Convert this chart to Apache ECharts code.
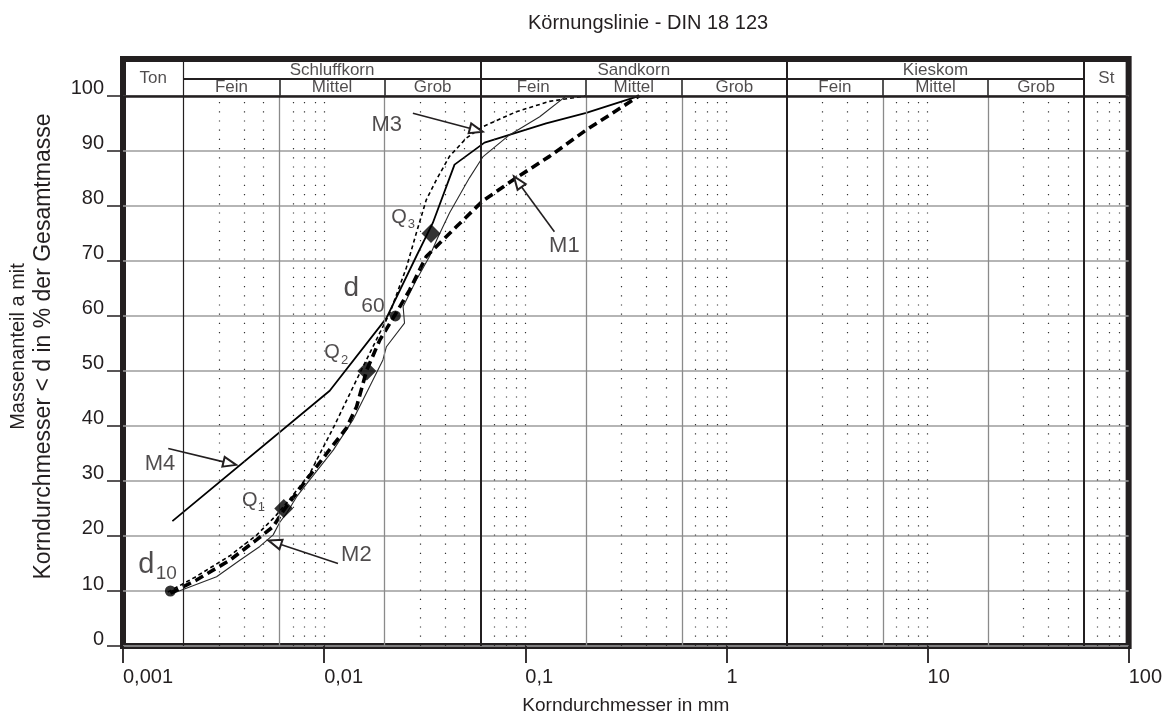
<!DOCTYPE html>
<html>
<head>
<meta charset="utf-8">
<script src="https://cdn.jsdelivr.net/npm/echarts@6/dist/echarts.min.js"></script>
<style>
html,body{margin:0;padding:0;background:#ffffff;}
#chart{width:1165px;height:726px;}
</style>
</head>
<body>
<div id="chart"></div>
<script>
// ---------------- data ----------------
const xTickLabels = ['0,001', '0,01', '0,1', '1', '10', '100'];
const yTickValues = [0, 10, 20, 30, 40, 50, 60, 70, 80, 90, 100];

// DIN grain-size classes (mm)
const mainBounds = [0.002, 0.06, 2, 60];
const subBounds = [0.006, 0.02, 0.2, 0.6, 6, 20];
const minorLines = [0.003, 0.004, 0.005, 0.007, 0.008, 0.009, 0.01,
  0.03, 0.04, 0.05, 0.07, 0.08, 0.09, 0.1,
  0.3, 0.4, 0.5, 0.7, 0.8, 0.9, 1,
  3, 4, 5, 7, 8, 9, 10,
  30, 40, 50, 70, 80, 90];
const groupNames = ['Schluffkorn', 'Sandkorn', 'Kieskom'];
const groupRanges = [[0.002, 0.06], [0.06, 2], [2, 60]];
const subNames = ['Fein', 'Mittel', 'Grob', 'Fein', 'Mittel', 'Grob', 'Fein', 'Mittel', 'Grob'];
const subRanges = [[0.002, 0.006], [0.006, 0.02], [0.02, 0.06], [0.06, 0.2], [0.2, 0.6], [0.6, 2], [2, 6], [6, 20], [20, 60]];
const edgeNames = ['Ton', 'St'];
const edgeRanges = [[0.001, 0.002], [60, 100]];

// grading curves: grain diameter d (mm) and mass passing (%)
const m1D = [0.00172, 0.00232, 0.0034, 0.00461, 0.00558, 0.0063, 0.00817, 0.0103, 0.0129, 0.0145, 0.0163, 0.0189, 0.0226, 0.0266, 0.0322, 0.0375, 0.0454, 0.0615, 0.0902, 0.132, 0.201, 0.369];
const m1P = [9.6, 12.0, 15.6, 19.3, 21.7, 24.7, 30.2, 35.0, 39.6, 43.5, 50.2, 55.6, 60.3, 64.7, 70.8, 73.2, 76.2, 80.9, 85.1, 89.0, 93.8, 100];

const m2D = [0.00175, 0.00292, 0.00381, 0.00479, 0.00558, 0.00602, 0.0065, 0.00729, 0.00848, 0.0111, 0.0139, 0.0168, 0.0196, 0.0204, 0.0251, 0.0247, 0.0287, 0.0334, 0.0367, 0.0420, 0.0528, 0.0615, 0.0835, 0.118, 0.160];
const m2P = [9.5, 12.6, 15.6, 18.1, 20.2, 22.5, 24.1, 27.1, 30.2, 35.6, 41.1, 47.1, 52.0, 54.4, 58.7, 61.7, 66.5, 70.8, 74.2, 78.7, 85.1, 88.9, 92.9, 96.2, 100];

const m3D = [0.00167, 0.00228, 0.0034, 0.00463, 0.00569, 0.00675, 0.00848, 0.00973, 0.0113, 0.0145, 0.0189, 0.0212, 0.0256, 0.0287, 0.0322, 0.0361, 0.0420, 0.0509, 0.0615, 0.0901, 0.132, 0.201];
const m3P = [9.8, 12.5, 16.4, 20.2, 23.5, 26.7, 31.3, 35.6, 40.2, 48.4, 56.9, 60.5, 68.7, 75.0, 81.1, 84.7, 89.0, 92.3, 94.4, 97.1, 99.0, 100];

const m4D = [0.00176, 0.01066, 0.0204, 0.0287, 0.0347, 0.0445, 0.0627, 0.127, 0.201, 0.369];
const m4P = [22.7, 46.4, 59.6, 70.8, 76.9, 87.5, 91.5, 95.0, 96.9, 100];

// characteristic points
const quartD = [0.0063, 0.0163, 0.0340];
const quartP = [25, 50, 75];
const quartNames = ['1', '2', '3'];
const dD = [0.00172, 0.0226];
const dP = [10, 60];
const dNames = ['10', '60'];

// curve labels and arrows (label anchor, arrow tail, arrow tip)
const curveNames = ['M1', 'M2', 'M3', 'M4'];
const curveLabelAt = [[0.1565, 72.7], [0.01446, 16.5], [0.0205, 94.7], [0.001527, 33.1]];
const arrowTail = [[0.1396, 75.3], [0.01172, 15.0], [0.02763, 96.85], [0.001679, 35.9]];
const arrowTip = [[0.0918, 84.4], [0.005685, 18.8], [0.05705, 93.8], [0.003398, 33.2]];

// ---------------- layout / style ----------------
const FONT = "'Liberation Sans', Arial, Helvetica, sans-serif";
const INK = '#231f20';
const Y_TOP = 106.7;
const ROW_SPLIT = 103.2;
const ROW_GROUP = 104.6, ROW_SUB = 101.6, ROW_EDGE = 103.1;

// label offsets (pixels) relative to their marker
const quartMainOff = [[-34, -8.4], [-34.8, -18.3], [-32.1, -16.4]];
const quartSubOff = [[-22.5, -1], [-22.3, -10.9], [-19.6, -8.7]];
const dMainOff = [[-24, -26.4], [-44, -27.2]];
const dSubOff = [[-4, -17.6], [-22.4, -10]];
const dMainSize = [29, 28];
const dSubSize = [19, 21];

const zip = (xs, ys) => xs.map((x, i) => [x, ys[i]]);
const gmean = (r) => Math.sqrt(r[0] * r[1]);

function seg(x1, y1, x2, y2, style) {
  return [{ coord: [x1, y1], lineStyle: style }, { coord: [x2, y2] }];
}

const dark = { color: INK, width: 2, type: 'solid' };
const thinDark = { color: INK, width: 1.2, type: 'solid' };
const gray = { color: '#8a8a8a', width: 1.3, type: 'solid' };
const grayHead = { color: '#555555', width: 2, type: 'solid' };
const dotted = { color: '#333333', width: 1.2, type: [1.2, 8] };

const frameLines = [];
minorLines.forEach(v => frameLines.push(seg(v, 0, v, 100, dotted)));
subBounds.forEach(v => frameLines.push(seg(v, 0, v, 100, gray)));
subBounds.forEach(v => frameLines.push(seg(v, 100, v, ROW_SPLIT, grayHead)));
mainBounds.forEach((v, i) => frameLines.push(seg(v, 0, v, Y_TOP, i === 0 ? thinDark : dark)));
frameLines.push(seg(0.001, 100, 100, 100, { color: INK, width: 2.6, type: 'solid' }));
frameLines.push(seg(mainBounds[0], ROW_SPLIT, mainBounds[mainBounds.length - 1], ROW_SPLIT, dark));

// header texts
const headerItems = [];
groupNames.forEach((n, i) => headerItems.push({ value: [gmean(groupRanges[i]), ROW_GROUP], label: { formatter: n } }));
subNames.forEach((n, i) => headerItems.push({ value: [gmean(subRanges[i]), ROW_SUB], label: { formatter: n } }));
edgeNames.forEach((n, i) => headerItems.push({ value: [gmean(edgeRanges[i]), ROW_EDGE], label: { formatter: n } }));

// marker labels
const markerLabelItems = [];
quartD.forEach((d, i) => {
  markerLabelItems.push({ value: [d, quartP[i]], label: { formatter: 'Q', fontSize: 20, offset: quartMainOff[i] } });
  markerLabelItems.push({ value: [d, quartP[i]], label: { formatter: quartNames[i], fontSize: 13, offset: quartSubOff[i] } });
});
dD.forEach((d, i) => {
  markerLabelItems.push({ value: [d, dP[i]], label: { formatter: 'd', fontSize: dMainSize[i], offset: dMainOff[i] } });
  markerLabelItems.push({ value: [d, dP[i]], label: { formatter: dNames[i], fontSize: dSubSize[i], offset: dSubOff[i] } });
});
curveNames.forEach((n, i) => {
  markerLabelItems.push({ value: curveLabelAt[i], label: { formatter: n, fontSize: 22 } });
});

const arrowLines = curveNames.map((n, i) => [{ coord: arrowTail[i] }, { coord: arrowTip[i] }]);

const chart = echarts.init(document.getElementById('chart'), null, { renderer: 'canvas' });

const option = {
  animation: false,
  backgroundColor: '#ffffff',
  textStyle: { fontFamily: FONT, color: INK },
  title: {
    text: 'Körnungslinie - DIN 18 123',
    left: 523,
    top: 8,
    textStyle: { fontFamily: FONT, fontSize: 20, fontWeight: 'normal', color: INK }
  },
  grid: {
    left: 123, right: 35, top: 59, bottom: 80,
    show: true, borderWidth: 6, borderColor: INK, backgroundColor: '#ffffff',
    containLabel: false
  },
  xAxis: {
    type: 'log', logBase: 10, min: 0.001, max: 100,
    name: 'Korndurchmesser in mm', nameLocation: 'middle', nameGap: 50,
    nameTextStyle: { fontFamily: FONT, fontSize: 19, color: INK },
    axisLine: { show: false },
    axisTick: { show: true, length: 17, lineStyle: { color: INK, width: 1.8 } },
    axisLabel: {
      fontFamily: FONT, fontSize: 20, color: INK, margin: 21, align: 'left',
      formatter: v => xTickLabels[Math.round(Math.log10(v)) + 3]
    },
    splitLine: { show: false }
  },
  yAxis: {
    type: 'value', min: 0, max: Y_TOP, interval: 10,
    name: '{a|Massenanteil a mit}\n{b|Korndurchmesser < d in % der Gesamtmasse}',
    nameLocation: 'middle', nameRotate: 90, nameGap: 67,
    nameTextStyle: {
      fontFamily: FONT, color: INK, padding: [0, 0, 0, 12],
      rich: {
        a: { fontFamily: FONT, fontSize: 20, lineHeight: 25, color: INK },
        b: { fontFamily: FONT, fontSize: 23, lineHeight: 25, color: INK }
      }
    },
    axisLine: { show: false },
    axisTick: { show: true, length: 16, customValues: yTickValues, lineStyle: { color: INK, width: 1.5 } },
    axisLabel: {
      fontFamily: FONT, fontSize: 20, color: INK, margin: 19, verticalAlign: 'bottom', lineHeight: 14,
      customValues: yTickValues,
      formatter: v => (v > 100 ? '' : String(v))
    },
    splitLine: { show: true, lineStyle: { color: '#9c9c9c', width: 1.5 } }
  },
  series: [
    {
      name: 'frame', type: 'line', data: [], silent: true, z: 1,
      markLine: { silent: true, symbol: ['none', 'none'], label: { show: false }, animation: false, data: frameLines }
    },
    {
      name: 'M4', type: 'line', data: zip(m4D, m4P), showSymbol: false, symbol: 'none', z: 3, silent: true,
      lineStyle: { color: '#000000', width: 1.8, type: 'solid' }
    },
    {
      name: 'M2', type: 'line', data: zip(m2D, m2P), showSymbol: false, symbol: 'none', z: 3, silent: true,
      lineStyle: { color: '#2a2a2a', width: 1.1, type: 'solid' }
    },
    {
      name: 'M3', type: 'line', data: zip(m3D, m3P), showSymbol: false, symbol: 'none', z: 3, silent: true,
      lineStyle: { color: '#000000', width: 1.6, type: [4, 3] }
    },
    {
      name: 'M1', type: 'line', data: zip(m1D, m1P), showSymbol: false, symbol: 'none', z: 4, silent: true,
      lineStyle: { color: '#000000', width: 3.6, type: [9, 5] }
    },
    {
      name: 'arrows', type: 'line', data: [], silent: true, z: 5,
      markLine: {
        silent: true, symbol: ['none', 'emptyTriangle'], symbolSize: [10, 13], label: { show: false }, animation: false,
        lineStyle: { color: INK, width: 1.6, type: 'solid' },
        data: arrowLines
      }
    },
    {
      name: 'quartiles', type: 'scatter', data: zip(quartD, quartP), symbol: 'diamond', symbolSize: 19, z: 6, silent: true,
      itemStyle: { color: '#000000' }
    },
    {
      name: 'dvalues', type: 'scatter', data: zip(dD, dP), symbol: 'circle', symbolSize: 11, z: 6, silent: true,
      itemStyle: { color: '#000000' }
    },
    {
      name: 'header', type: 'scatter', data: headerItems, symbolSize: 1, z: 6, silent: true,
      itemStyle: { color: 'rgba(0,0,0,0)' },
      label: { show: true, position: 'inside', fontFamily: FONT, fontSize: 17, color: INK }
    },
    {
      name: 'labels', type: 'scatter', data: markerLabelItems, symbolSize: 1, z: 7, silent: true,
      itemStyle: { color: 'rgba(0,0,0,0)' },
      label: { show: true, position: 'inside', fontFamily: FONT, color: INK }
    }
  ]
};

chart.setOption(option);
</script>
</body>
</html>
